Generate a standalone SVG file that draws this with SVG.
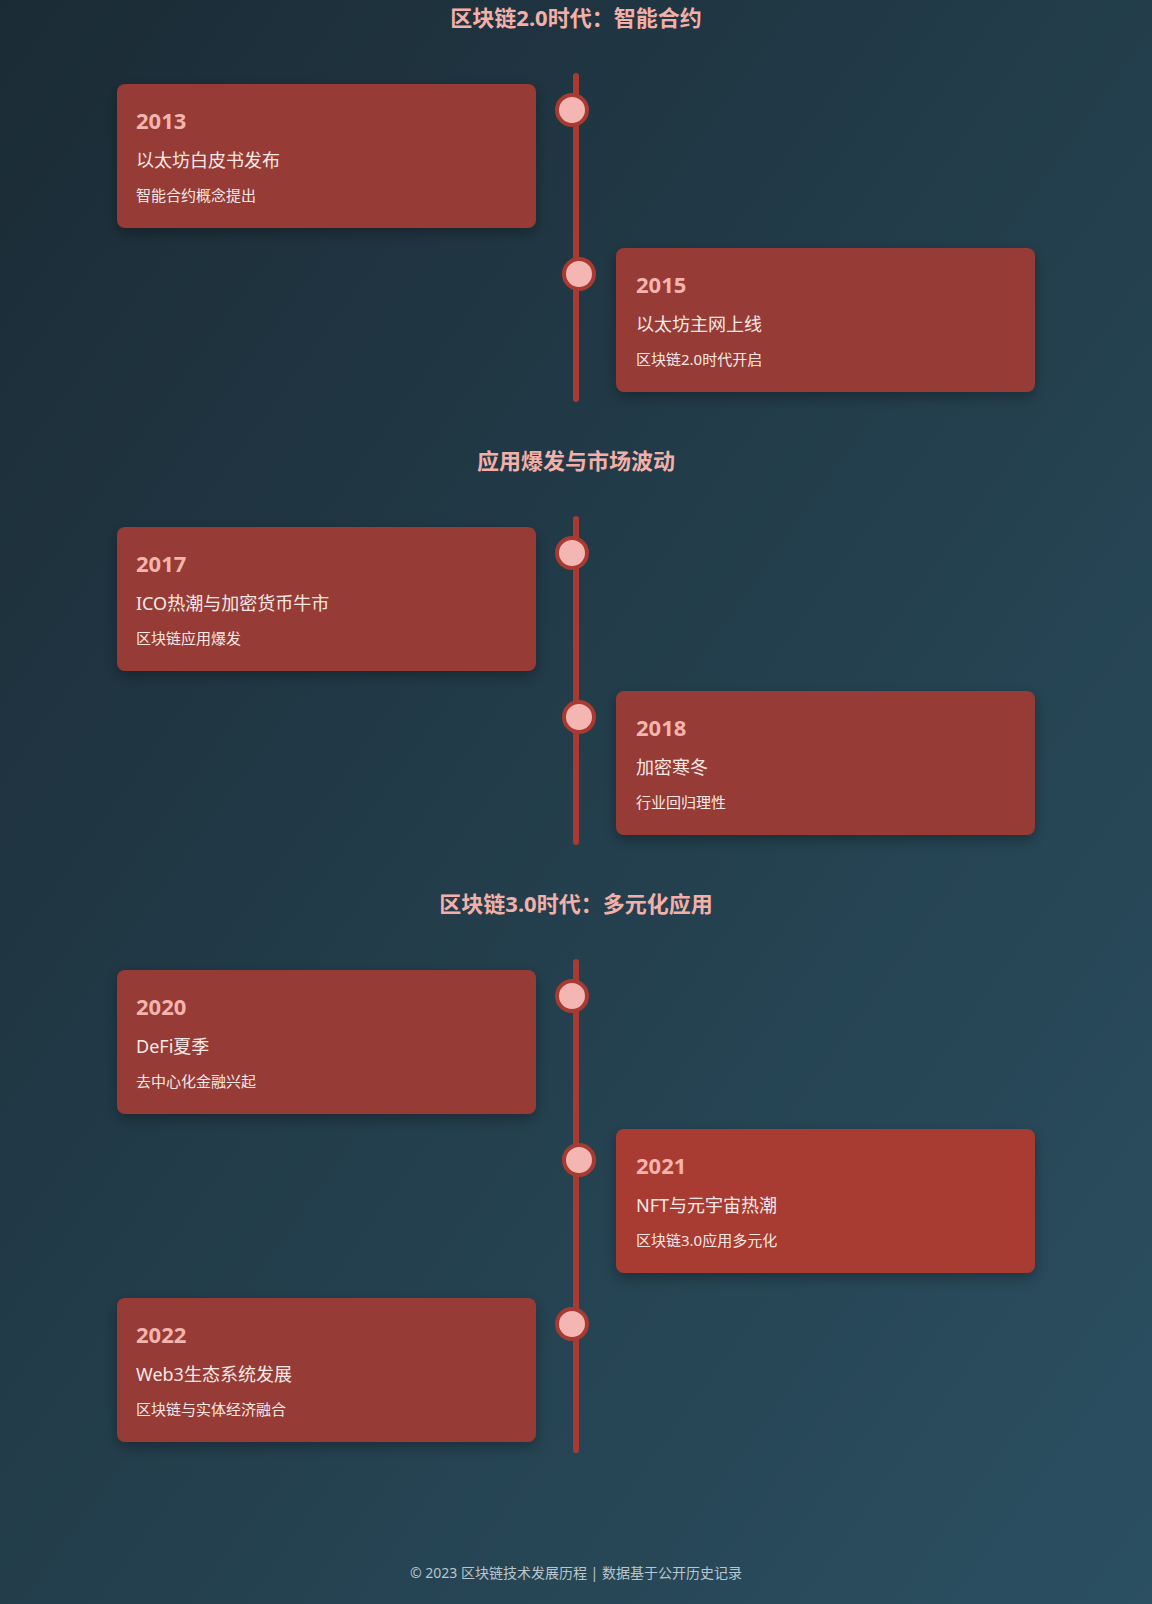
<svg xmlns="http://www.w3.org/2000/svg" width="1152" height="1604" viewBox="0 0 1152 1604">
<defs>
<linearGradient id="bg" x1="0" y1="0" x2="1" y2="1"><stop offset="0" stop-color="#1b2b35"/><stop offset="1" stop-color="#2b5062"/></linearGradient>
<linearGradient id="ll" x1="0" y1="0" x2="1" y2="0"><stop offset="0" stop-color="#a83a32" stop-opacity="0.3"/><stop offset="0.5" stop-color="#a83a32"/><stop offset="1" stop-color="#a83a32" stop-opacity="0"/></linearGradient>
<linearGradient id="lr" x1="0" y1="0" x2="1" y2="0"><stop offset="0" stop-color="#a83a32" stop-opacity="0"/><stop offset="0.5" stop-color="#a83a32"/><stop offset="1" stop-color="#a83a32" stop-opacity="0.3"/></linearGradient>
<filter id="sh" x="-10%" y="-20%" width="120%" height="150%"><feDropShadow dx="0" dy="5" stdDeviation="7" flood-color="#000" flood-opacity="0.3"/></filter>
</defs>
<style>
text{font-family:"Noto Sans","Open Sans","Noto Sans CJK SC",sans-serif}
.sec{font-size:22px;font-weight:bold;fill:#f4b0a8;text-anchor:middle}
.card{fill:#963a34;filter:url(#sh)}
.hi{fill:#a83a32}
.yr{font-size:22px;font-weight:bold;fill:#f4b4ae}
.tt{font-size:18px;fill:#f7e8e6}
.ds{font-size:15px;fill:#f7e8e6}
.line{stroke:#a83a32;stroke-width:6;stroke-linecap:round}
.dot{fill:#f4b6b2;stroke:#a83a32;stroke-width:4}
.ft{font-size:14px;fill:#b9c6cc;text-anchor:middle}
</style>
<rect width="1152" height="1604" fill="url(#bg)"/>
<g id="connectors">
<line class="line" x1="576" y1="76" x2="576" y2="399"/>
<line class="line" x1="576" y1="519" x2="576" y2="842"/>
<line class="line" x1="576" y1="962" x2="576" y2="1450"/>
</g>
<g id="sec1"><line x1="0" y1="18" x2="420" y2="18" stroke="url(#ll)" stroke-width="2"/><line x1="730" y1="18" x2="1152" y2="18" stroke="url(#lr)" stroke-width="2"/><text class="sec" x="576" y="26">区块链2.0时代：智能合约</text></g>
<g id="sec2"><line x1="0" y1="461" x2="450" y2="461" stroke="url(#ll)" stroke-width="2"/><line x1="702" y1="461" x2="1152" y2="461" stroke="url(#lr)" stroke-width="2"/><text class="sec" x="576" y="469">应用爆发与市场波动</text></g>
<g id="sec3"><line x1="0" y1="904" x2="410" y2="904" stroke="url(#ll)" stroke-width="2"/><line x1="742" y1="904" x2="1152" y2="904" stroke="url(#lr)" stroke-width="2"/><text class="sec" x="576" y="912">区块链3.0时代：多元化应用</text></g>

<g id="e2013"><rect class="card" x="117" y="84" width="419" height="144" rx="8"/><circle class="dot" cx="572" cy="110" r="15"/><text class="yr" x="136" y="129">2013</text><text class="tt" x="136" y="167">以太坊白皮书发布</text><text class="ds" x="136" y="201">智能合约概念提出</text></g>
<g id="e2015"><rect class="card" x="616" y="248" width="419" height="144" rx="8"/><circle class="dot" cx="579" cy="274" r="15"/><text class="yr" x="636" y="293">2015</text><text class="tt" x="636" y="331">以太坊主网上线</text><text class="ds" x="636" y="365">区块链2.0时代开启</text></g>
<g id="e2017"><rect class="card" x="117" y="527" width="419" height="144" rx="8"/><circle class="dot" cx="572" cy="553" r="15"/><text class="yr" x="136" y="572">2017</text><text class="tt" x="136" y="610">ICO热潮与加密货币牛市</text><text class="ds" x="136" y="644">区块链应用爆发</text></g>
<g id="e2018"><rect class="card" x="616" y="691" width="419" height="144" rx="8"/><circle class="dot" cx="579" cy="717" r="15"/><text class="yr" x="636" y="736">2018</text><text class="tt" x="636" y="774">加密寒冬</text><text class="ds" x="636" y="808">行业回归理性</text></g>
<g id="e2020"><rect class="card" x="117" y="970" width="419" height="144" rx="8"/><circle class="dot" cx="572" cy="996" r="15"/><text class="yr" x="136" y="1015">2020</text><text class="tt" x="136" y="1053">DeFi夏季</text><text class="ds" x="136" y="1087">去中心化金融兴起</text></g>
<g id="e2021"><rect class="card hi" x="616" y="1129" width="419" height="144" rx="8"/><circle class="dot" cx="579" cy="1160" r="15"/><text class="yr" x="636" y="1174">2021</text><text class="tt" x="636" y="1212">NFT与元宇宙热潮</text><text class="ds" x="636" y="1246">区块链3.0应用多元化</text></g>
<g id="e2022"><rect class="card" x="117" y="1298" width="419" height="144" rx="8"/><circle class="dot" cx="572" cy="1324" r="15"/><text class="yr" x="136" y="1343">2022</text><text class="tt" x="136" y="1381">Web3生态系统发展</text><text class="ds" x="136" y="1415">区块链与实体经济融合</text></g>
<g id="footer"><text class="ft" x="576" y="1578">© 2023 区块链技术发展历程 | 数据基于公开历史记录</text></g>
</svg>
